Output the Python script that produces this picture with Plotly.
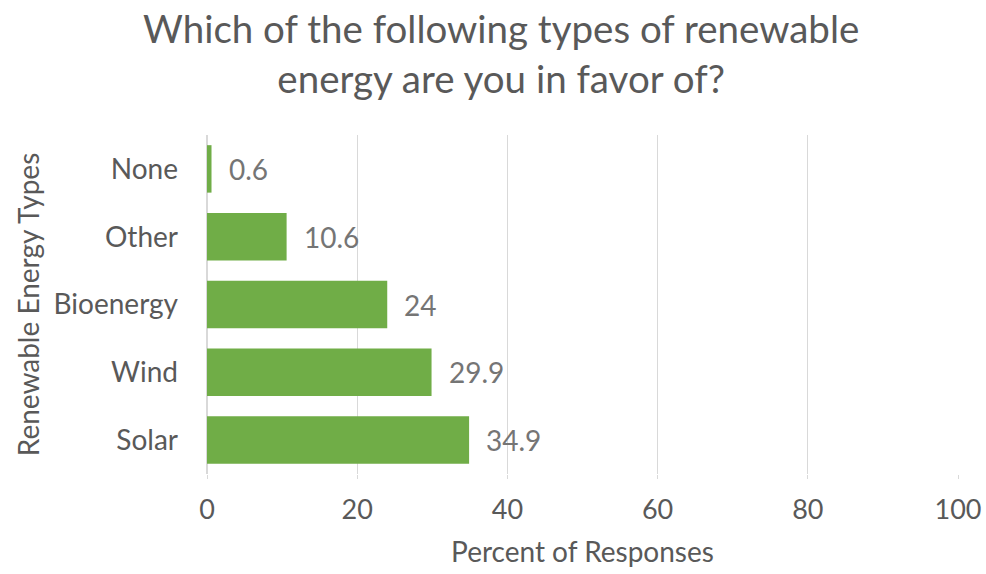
import plotly.graph_objects as go

categories = ["Solar", "Wind", "Bioenergy", "Other", "None"]
values = [34.9, 29.9, 24, 10.6, 0.6]
labels = ["34.9", "29.9", "24", "10.6", "0.6"]
x_ticks = [0, 20, 40, 60, 80, 100]

fig = go.Figure()
fig.add_trace(go.Bar(
    y=categories, x=values, orientation="h",
    marker=dict(color="#70AD47", line=dict(width=0)),
    hoverinfo="x+y",
))

for c, v, t in zip(categories, values, labels):
    fig.add_annotation(x=v, y=c, text=t, showarrow=False, xanchor="left",
                       xshift=15, font=dict(family="Lato", size=28, color="#757575"))

fig.add_annotation(
    text="Which of the following types of renewable<br>energy are you in favor of?",
    xref="paper", yref="paper", x=0.391, y=1.39, xanchor="center", yanchor="top",
    showarrow=False, align="center",
    font=dict(family="Lato", size=38.5, color="#595959"),
)

fig.update_layout(
    width=986, height=574,
    margin=dict(l=207, r=28, t=135, b=100),
    paper_bgcolor="white", plot_bgcolor="white",
    font=dict(family="Lato", color="#595959"),
    showlegend=False,
    bargap=0.3,
    xaxis=dict(
        range=[0, 100], tickvals=x_ticks, showgrid=True, gridcolor="#d9d9d9", gridwidth=1,
        zeroline=True, zerolinecolor="#d9d9d9", showline=False,
        ticks="outside", ticklen=4, tickcolor="#d9d9d9",
        ticklabelstandoff=8, automargin=False,
        tickfont=dict(family="Lato", size=27, color="#595959"),
        title=dict(text="Percent of Responses", standoff=17,
                   font=dict(family="Lato", size=28, color="#595959")),
        fixedrange=True,
    ),
    yaxis=dict(
        showgrid=False, showline=False, ticks="",
        ticklabelstandoff=28, automargin=False,
        tickfont=dict(family="Lato", size=28, color="#595959"),
        title=dict(text="Renewable Energy Types", standoff=5,
                   font=dict(family="Lato", size=28, color="#595959")),
        fixedrange=True,
    ),
)

fig.write_html("out.html")
